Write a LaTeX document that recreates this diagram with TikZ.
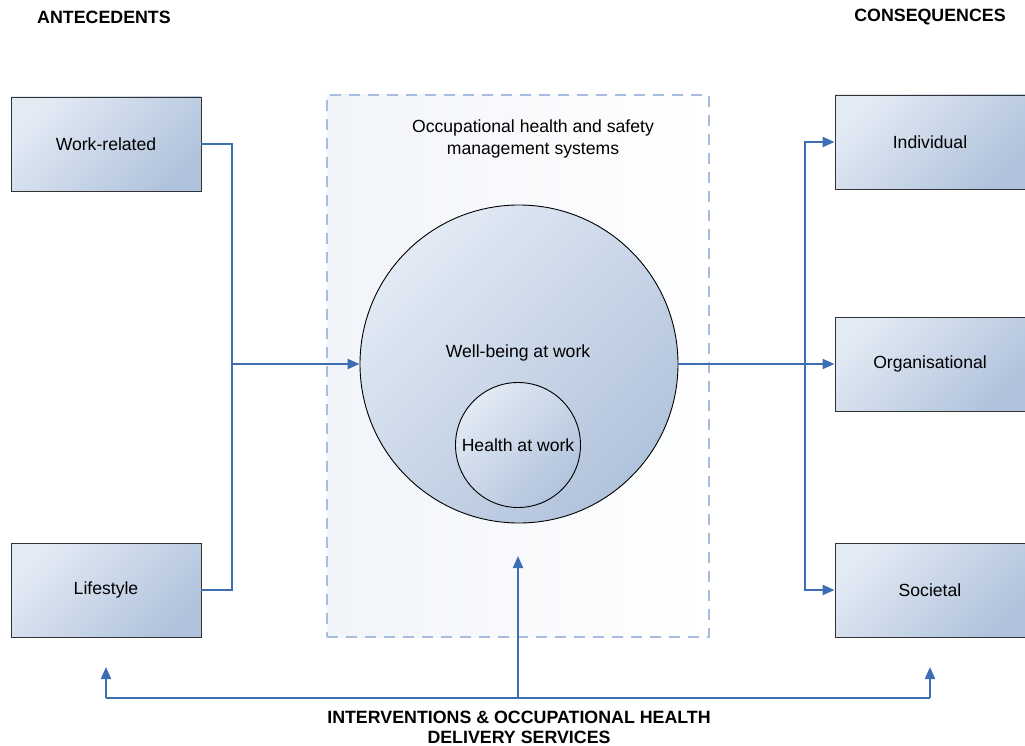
\documentclass[tikz,border=0pt]{standalone}
\usepackage{fontspec}
\setmainfont{Liberation Sans}
\usetikzlibrary{arrows.meta}
\definecolor{boxlight}{HTML}{E2EAF4}
\definecolor{boxdark}{HTML}{B1C3DC}
\definecolor{arrowblue}{HTML}{3D6DB4}
\definecolor{dashblue}{HTML}{A8BCDF}
\definecolor{panel}{HTML}{F1F4F9}
\tikzset{
  txt/.style={font=\fontsize{17.6}{22}\selectfont},
  box/.style={txt, draw=black!80, line width=0.9pt, minimum width=190pt, minimum height=94pt,
    top color=boxlight, bottom color=boxdark, shading angle=45, inner sep=0pt},
  circ/.style={circle, draw=black, line width=0.9pt, inner sep=0pt,
    top color=boxlight, bottom color=boxdark, shading angle=45},
  conn/.style={draw=arrowblue, line width=2.1pt},
  arr/.style={conn, -{Triangle[length=12pt,width=10pt]}},
  head/.style={font=\bfseries\fontsize{17.8}{20}\selectfont},
}
\begin{document}
\begin{tikzpicture}[x=1pt,y=-1pt]
\useasboundingbox (0,0) rectangle (1025,746);
% panel
\node[draw=dashblue, line width=1.8pt, dash pattern=on 11pt off 8pt, minimum width=382pt, minimum height=542pt,
  left color=panel, right color=white, inner sep=0pt] (panel) at (518,366) {};
\node[txt, align=center] (ohs) at (533,139) {Occupational health and safety\\management systems};
% circles
\node[circ, minimum size=318pt] (wb) at (519,364) {};
\node[txt] (wbt) at (518,353) {Well-being at work};
\node[circ, txt, minimum size=125pt] (hw) at (518,445) {Health at work};
% boxes
\node[box] (work) at (106,144) {Work-related};
\node[box] (life) at (106,590) {Lifestyle};
\node[box] (ind) at (930,142) {Individual};
\node[box] (org) at (930,364) {Organisational};
\node[box] (soc) at (930,590) {Societal};
% headings
\node[head] (ante) at (104,17) {ANTECEDENTS};
\node[head] (cons) at (930,17) {CONSEQUENCES};
\node[head, align=center] (int) at (519,727) {INTERVENTIONS \& OCCUPATIONAL HEALTH\\DELIVERY SERVICES};
% coordinates
\coordinate (lj) at (232,364);
\coordinate (rj) at (805,364);
\coordinate (bj) at (518,698);
\coordinate (bl) at (106,698);
\coordinate (br) at (930,698);
\coordinate (blt) at (106,667);
\coordinate (brt) at (930,667);
\coordinate (bt) at (518,556);
% left connectors
\draw[conn] (work.east) -| (lj) |- (life.east);
\draw[arr] (lj) -- (wb.west);
% right connectors
\draw[conn] (wb.east) -- (rj);
\draw[arr] (rj) |- (ind.west);
\draw[arr] (rj) -- (org.west);
\draw[arr] (rj) |- (soc.west);
% bottom
\draw[arr] (bj) -- (bt);
\draw[conn] (bl) -- (br);
\draw[arr] (bl) -- (blt);
\draw[arr] (br) -- (brt);
\end{tikzpicture}
\end{document}
